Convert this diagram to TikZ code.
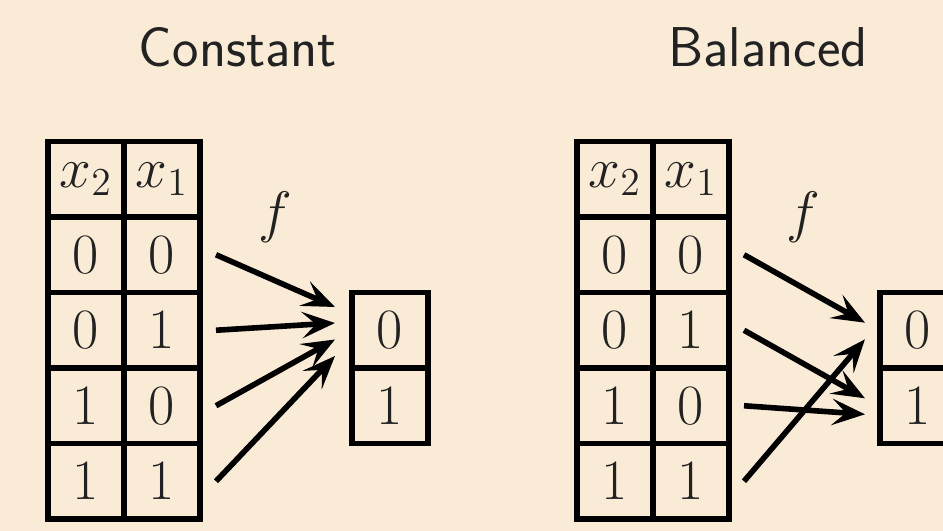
\documentclass[tikz,border=0pt]{standalone}
\usetikzlibrary{arrows.meta}
\definecolor{bg}{RGB}{250,235,215}
\definecolor{ink}{RGB}{34,34,34}
\begin{document}
\begin{tikzpicture}[x=0.303pt,y=-0.303pt,
  cell/.style={draw=black, line width=1.75pt, minimum width=23.03pt, minimum height=22.88pt,
    inner sep=0pt, outer sep=0pt, font=\LARGE, text=ink},
  arr/.style={line width=1.7pt, -{Stealth[length=10pt,width=8pt,inset=4.2pt]}},
  title/.style={font=\sffamily\fontsize{17}{20}\selectfont, text=ink, inner sep=0pt},
  flabel/.style={font=\LARGE, text=ink, inner sep=0pt}]
\fill[bg] (0,0) rectangle (943,531);
\useasboundingbox (0,0) rectangle (943,531);
\clip (0,0) rectangle (943,531);

% titles
\node[title, anchor=base] (tconst) at (238,66.7) {Constant};
\node[title, anchor=base] (tbal) at (768,66.7) {Balanced};

% ---------- left group ----------
\node[cell] (Lh2) at (86,179.25) {$x_2$};
\node[cell] (Lh1) at (162,179.25) {$x_1$};
\node[cell] (La2) at (86,254.75) {$0$};
\node[cell] (La1) at (162,254.75) {$0$};
\node[cell] (Lb2) at (86,330.25) {$0$};
\node[cell] (Lb1) at (162,330.25) {$1$};
\node[cell] (Lc2) at (86,405.75) {$1$};
\node[cell] (Lc1) at (162,405.75) {$0$};
\node[cell] (Ld2) at (86,481.25) {$1$};
\node[cell] (Ld1) at (162,481.25) {$1$};

\node[cell] (Lo0) at (390,330.25) {$0$};
\node[cell] (Lo1) at (390,405.75) {$1$};

\node[flabel] (Lf) at (275,217) {$f$};

\coordinate (Lt1) at (335,307);
\coordinate (Lt2) at (335,323);
\coordinate (Lt3) at (335,339.5);
\coordinate (Lt4) at (335,356);

\draw[arr] ([xshift=4.85pt]La1.east) -- (Lt1);
\draw[arr] ([xshift=4.85pt]Lb1.east) -- (Lt2);
\draw[arr] ([xshift=4.85pt]Lc1.east) -- (Lt3);
\draw[arr] ([xshift=4.85pt]Ld1.east) -- (Lt4);

% ---------- right group ----------
\node[cell] (Rh2) at (615,179.25) {$x_2$};
\node[cell] (Rh1) at (691,179.25) {$x_1$};
\node[cell] (Ra2) at (615,254.75) {$0$};
\node[cell] (Ra1) at (691,254.75) {$0$};
\node[cell] (Rb2) at (615,330.25) {$0$};
\node[cell] (Rb1) at (691,330.25) {$1$};
\node[cell] (Rc2) at (615,405.75) {$1$};
\node[cell] (Rc1) at (691,405.75) {$0$};
\node[cell] (Rd2) at (615,481.25) {$1$};
\node[cell] (Rd1) at (691,481.25) {$1$};

\node[cell] (Ro0) at (918,330.25) {$0$};
\node[cell] (Ro1) at (918,405.75) {$1$};

\node[flabel] (Rf) at (803,217) {$f$};

\coordinate (Rt1) at (865,322.7);
\coordinate (Rt2) at (865,398.3);
\coordinate (Rt3) at (865,414.3);
\coordinate (Rt4) at (865,339.3);

\draw[arr] ([xshift=4.55pt]Ra1.east) -- (Rt1);
\draw[arr] ([xshift=4.55pt]Rb1.east) -- (Rt2);
\draw[arr] ([xshift=4.55pt]Rc1.east) -- (Rt3);
\draw[arr] ([xshift=4.55pt]Rd1.east) -- (Rt4);
\end{tikzpicture}
\end{document}
